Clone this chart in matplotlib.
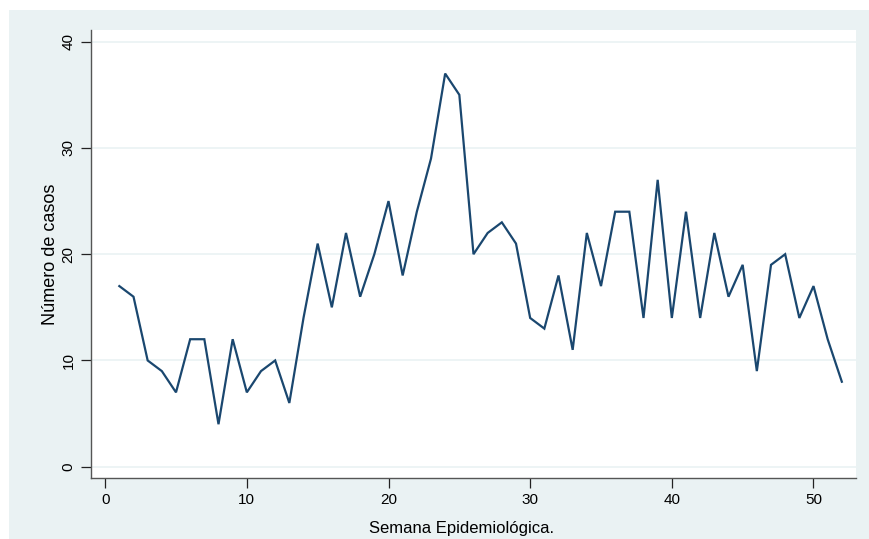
import matplotlib
matplotlib.use("Agg")
import matplotlib.pyplot as plt
from matplotlib.patches import Rectangle

weeks = list(range(1, 53))
cases = [17, 16, 10, 9, 7, 12, 12, 4, 12, 7, 9, 10, 6, 14, 21, 15, 22, 16, 20, 25,
         18, 24, 29, 37, 35, 20, 22, 23, 21, 14, 13, 18, 11, 22, 17, 24, 24, 14, 27, 14,
         24, 14, 22, 16, 19, 9, 19, 20, 14, 17, 12, 8]
xticks = [0, 10, 20, 30, 40, 50]
yticks = [0, 10, 20, 30, 40]

plt.rcParams['font.family'] = ['Liberation Sans', 'DejaVu Sans']
W, H = 869, 539
fig = plt.figure(figsize=(W/100, H/100), dpi=100, facecolor='white')
bg = '#EAF2F3'
rect = Rectangle((9/W, 0), 1, (H-10)/H, transform=fig.transFigure,
                 facecolor=bg, edgecolor='none', zorder=-10)
fig.add_artist(rect)
ax = fig.add_axes([91/W, 1-478/H, (856-91)/W, (478-30)/H])
ax.set_zorder(5)
ax.set_facecolor('white')
ax.plot(weeks, cases, color='#1A476F', lw=1.6, solid_joinstyle='miter', zorder=3)
ax.set_xlim(-1, 53)
ax.set_ylim(-1.06, 41.1)
ax.set_xticks(xticks)
ax.set_yticks(yticks)
ax.set_yticklabels([str(v) for v in yticks], rotation=90, va='center')
ax.grid(axis='y', color=bg, lw=1.2)
ax.set_axisbelow(True)
for s in ['top', 'right']:
    ax.spines[s].set_visible(False)
for s in ['left', 'bottom']:
    ax.spines[s].set_color('#555555')
    ax.spines[s].set_linewidth(1.0)
ax.tick_params(axis='both', length=7, width=0.9, color='#222222', labelsize=11, pad=4)
ax.set_xlabel('Semana Epidemiológica.', fontsize=12, labelpad=10, x=0.484)
ax.set_ylabel('Número de casos', fontsize=13, labelpad=2)
fig.savefig('out.png', dpi=100, facecolor='white')
